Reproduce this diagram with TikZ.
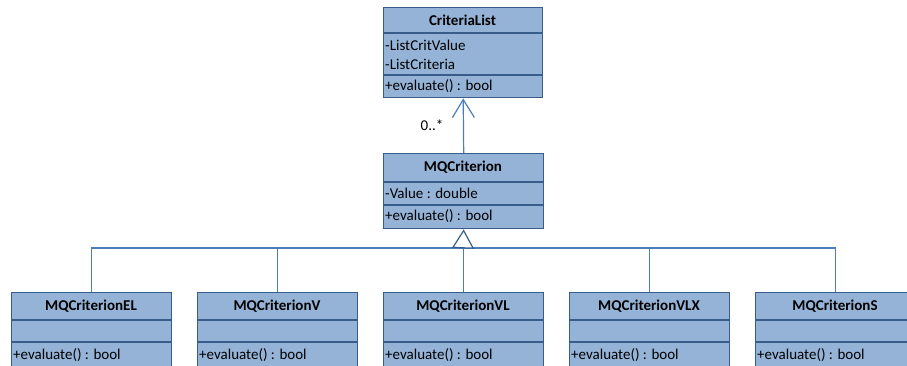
\documentclass[tikz,border=0pt]{standalone}
\usepackage{fontspec}
\setmainfont{Carlito}
\usetikzlibrary{arrows.meta}
\definecolor{umlfill}{HTML}{95B3D7}
\definecolor{umlborder}{HTML}{385D8A}
\definecolor{umlline}{HTML}{4A7EBB}
\begin{document}
\begin{tikzpicture}[x=1pt,y=-1pt,
  classbox/.style={draw=umlborder, fill=umlfill, line width=1.4pt, minimum width=160pt, anchor=north west, inner sep=0pt},
  sep/.style={draw=umlborder, line width=1.4pt},
  title/.style={font=\fontsize{15}{18}\selectfont\bfseries, inner sep=0pt},
  member/.style={font=\fontsize{15}{18}\selectfont, anchor=west, inner sep=0pt},
  conn/.style={draw=umlline, line width=1.2pt},
]
\useasboundingbox (0,0) rectangle (907,366);
\clip (0,0) rectangle (907,366);
% CriteriaList
\node[classbox, minimum width=159pt, minimum height=90pt] (cl) at (383,7) {};
\draw[sep] (383,33) -- (542,33);
\draw[sep] (383,75) -- (542,75);
\node[title] (cltitle) at (462.5,20) {CriteriaList};
\node[member] (cla1) at (385,45) {-ListCritValue};
\node[member] (cla2) at (385,64) {-ListCriteria};
\node[member] (clm1) at (385,86) {+evaluate() : bool};
% MQCriterion
\node[classbox, minimum height=75pt] (mq) at (383,153) {};
\draw[sep] (383,182) -- (543,182);
\draw[sep] (383,205) -- (543,205);
\node[title] (mqtitle) at (463,167) {MQCriterion};
\node[member] (mqa1) at (385,193) {-Value : double};
\node[member] (mqm1) at (385,216) {+evaluate() : bool};
% subclasses
\foreach \n/\x/\t in {el/11/MQCriterionEL, v/197/MQCriterionV, vl/383/MQCriterionVL, vlx/569/MQCriterionVLX, s/755/MQCriterionS}{
  \node[classbox, minimum height=80pt] (\n) at (\x,292) {};
  \draw[sep] (\x,320) -- ++(160,0);
  \draw[sep] (\x,342) -- ++(160,0);
  \node[title] (\n title) at (\x+80,306) {\t};
  \node[member] (\n m) at (\x+2,355) {+evaluate() : bool};
}
% association
\draw[conn, -{Straight Barb[length=18pt,width=22pt]}] (mq.north) -- (cl.south);
\node[member, anchor=center] (mult) at (432,125) {0..*};
% generalization
\coordinate (bus) at (463,248);
\draw[conn] (el.north) -- (el.north |- bus) -- (s.north |- bus) -- (s.north);
\draw[conn] (v.north) -- (v.north |- bus);
\draw[conn] (vlx.north) -- (vlx.north |- bus);
\draw[conn] (vl.north) -- (vl.north |- bus);
\draw[conn, draw=umlborder, -{Triangle[length=19pt,width=22pt,fill=white]}] (bus) -- (mq.south);
\end{tikzpicture}
\end{document}
